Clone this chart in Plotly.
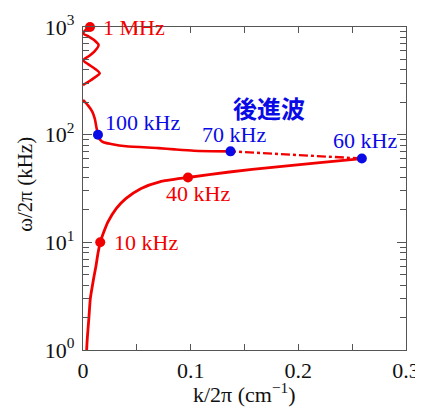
import numpy as np
import plotly.graph_objects as go

# ---- data ----
# lower branch (solid): 1 kHz -> 60 kHz
low_freq_khz = [1, 1.2, 1.5, 2, 3, 4, 5, 6, 8, 10, 13, 15.5, 20.7, 25.6, 31.7, 36.5, 40,
                45, 50, 55, 60]
low_k = [0.0034, 0.0038, 0.0045, 0.0055, 0.0068, 0.0088, 0.0105, 0.0120, 0.0140, 0.0160,
         0.0200, 0.0232, 0.0310, 0.0400, 0.0540, 0.0712, 0.0975, 0.1360, 0.1780, 0.2200, 0.2590]

# backward-wave part (dash-dot): 60 kHz -> 70 kHz
back_freq_khz = [60, 62, 64, 66, 68, 70]
back_k = [0.259, 0.232, 0.204, 0.181, 0.158, 0.137]

# upper branch (solid): 70 kHz -> 1 MHz (None = no propagation)
up_freq_khz = [70, 71, 73, 75, 78, 82, 85, 90, 95, 100, 118, 140, 163, 185, 210,
               None,
               289, 310, 335, 371, 410, 450, 492, 540, 590, 680, 760, 820, 870, 930, 1000]
up_k = [0.137, 0.103, 0.085, 0.070, 0.040, 0.026, 0.019, 0.0158, 0.0145, 0.0139, 0.0124,
        0.0110, 0.0087, 0.0050, 0.0,
        None,
        0.0, 0.0050, 0.0100, 0.0155, 0.0110, 0.0050, 0.0, 0.0060, 0.0105, 0.0145, 0.0100,
        0.0050, 0.0, 0.0020, 0.0065]

# marked points
red_pt_freq = [1000, 40, 10]
red_pt_k = [0.0065, 0.0975, 0.0160]
red_pt_text = ["1 MHz", "40 kHz", "10 kHz"]
blue_pt_freq = [100, 70, 60]
blue_pt_k = [0.0139, 0.137, 0.259]
blue_pt_text = ["100 kHz", "70 kHz", "60 kHz"]

x_ticks = [0, 0.1, 0.2, 0.3]
x_tick_text = ["0", "0.1", "0.2", "0.3"]
y_ticks = [1, 10, 100, 1000]
y_tick_text = ["10<sup>0</sup>", "10<sup>1</sup>", "10<sup>2</sup>", "10<sup>3</sup>"]
y_minor_ticks = [m * d for d in (1, 10, 100) for m in range(2, 10)]

RED = "#f20000"
BLUE = "#0a0ae6"
SERIF = "Liberation Serif"

fig = go.Figure()
fig.add_trace(go.Scatter(x=low_k, y=low_freq_khz, mode="lines",
                         line=dict(color=RED, width=2.8, shape="spline", smoothing=0.6),
                         showlegend=False, cliponaxis=False))
fig.add_trace(go.Scatter(x=back_k, y=back_freq_khz, mode="lines",
                         line=dict(color=RED, width=2.4, dash="dashdot"),
                         showlegend=False))
fig.add_trace(go.Scatter(x=up_k, y=up_freq_khz, mode="lines",
                         line=dict(color=RED, width=2.6, shape="spline", smoothing=0.6),
                         connectgaps=False, showlegend=False, cliponaxis=False))
fig.add_trace(go.Scatter(x=red_pt_k, y=red_pt_freq, mode="markers",
                         marker=dict(color=RED, size=10), showlegend=False, cliponaxis=False))
fig.add_trace(go.Scatter(x=blue_pt_k, y=blue_pt_freq, mode="markers",
                         marker=dict(color=BLUE, size=10), showlegend=False, cliponaxis=False))

# labels (positions relative to the points)
label_pos = {
    "1 MHz": (0.017, 3.0, "left"),
    "40 kHz": (0.107, 1.452, "center"),
    "10 kHz": (0.0266, 0.994, "left"),
    "100 kHz": (0.0186, 2.114, "left"),
    "70 kHz": (0.140, 2.0, "center"),
    "60 kHz": (0.262, 1.944, "center"),
}
for txt in red_pt_text:
    x, y, xa = label_pos[txt]
    fig.add_annotation(x=x, y=y, xref="x", yref="y", text=txt, showarrow=False,
                       xanchor=xa, yanchor="middle",
                       font=dict(family=SERIF, size=22, color=RED))
for txt in blue_pt_text:
    x, y, xa = label_pos[txt]
    fig.add_annotation(x=x, y=y, xref="x", yref="y", text=txt, showarrow=False,
                       xanchor=xa, yanchor="middle",
                       font=dict(family=SERIF, size=22, color=BLUE))
fig.add_annotation(x=0.173, y=2.253, xref="x", yref="y", text="<b>後進波</b>", showarrow=False,
                   xanchor="center", yanchor="middle",
                   font=dict(family="Noto Sans CJK JP", size=24, color=BLUE))

# axis titles
fig.add_annotation(x=0.5, y=-0.133, xref="paper", yref="paper",
                   text="k/2π (cm<sup>−1</sup>)", showarrow=False,
                   xanchor="center", yanchor="middle",
                   font=dict(family=SERIF, size=22, color="#111111"))
fig.add_annotation(x=-0.18, y=0.514, xref="paper", yref="paper",
                   text="ω/2π (kHz)", showarrow=False, textangle=-90,
                   xanchor="center", yanchor="middle",
                   font=dict(family=SERIF, size=21, color="#111111"))

axis_color = "#555555"
fig.update_xaxes(range=[0, 0.3], tickvals=x_ticks, ticktext=x_tick_text,
                 ticks="inside", ticklen=6, tickcolor=axis_color, tickwidth=1,
                 minor=dict(tickvals=[0.05, 0.15, 0.25], ticks="inside", ticklen=6,
                            tickcolor=axis_color),
                 showline=True, linecolor=axis_color, linewidth=1.2, mirror="allticks",
                 showgrid=False, zeroline=False, automargin=False,
                 tickfont=dict(family=SERIF, size=22, color="#111111"))
fig.update_yaxes(type="log", range=[0, 3], tickvals=y_ticks, ticktext=y_tick_text,
                 ticks="inside", ticklen=9, tickcolor=axis_color, tickwidth=1,
                 minor=dict(tickvals=y_minor_ticks, ticks="inside", ticklen=6,
                            tickcolor=axis_color, showgrid=False),
                 showline=True, linecolor=axis_color, linewidth=1.2, mirror="allticks",
                 showgrid=False, zeroline=False, automargin=False, ticklabelstandoff=3,
                 tickfont=dict(family=SERIF, size=22, color="#111111"))

# page body adds an 8px offset, so the figure is sized to fit the 423x414 window
fig.update_layout(width=415, height=406, margin=dict(l=75, r=17, t=19, b=64),
                  plot_bgcolor="white", paper_bgcolor="white", showlegend=False)

fig.write_html("out.html")
